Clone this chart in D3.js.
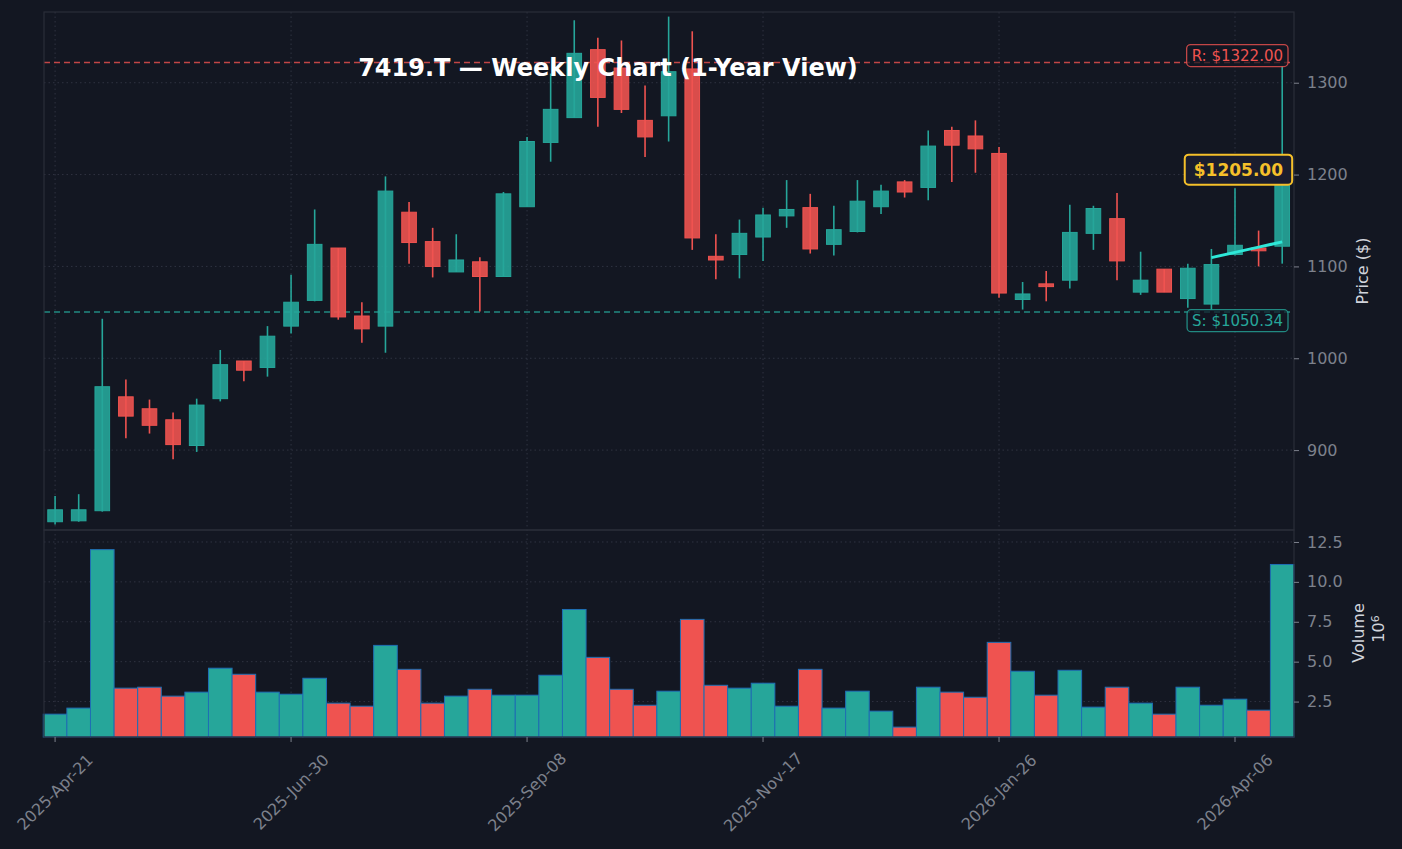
<!DOCTYPE html>
<html>
<head>
<meta charset="utf-8">
<script src="https://cdn.jsdelivr.net/npm/d3@7"></script>
<style>
  body { margin: 0; background: #131722; }
  svg { display: block; font-family: "DejaVu Sans", sans-serif; }
</style>
</head>
<body>
<div id="chart"></div>
<script>
var svgWidth = 1402;
var svgHeight = 849;

// weekly OHLC
var opens  = [822, 823, 834, 958, 945, 933, 905, 956, 997, 990, 1035, 1063, 1120, 1046, 1035, 1159, 1127, 1094, 1105, 1089, 1165, 1235, 1262, 1336, 1316, 1259, 1264, 1315, 1111, 1113, 1132, 1155, 1164, 1124, 1138, 1165, 1192, 1186, 1248, 1242, 1223, 1064, 1081, 1085, 1136, 1152, 1072, 1097, 1065, 1059, 1113, 1120, 1122];
var highs  = [850, 852, 1043, 977, 955, 941, 956, 1009, 997, 1035, 1091, 1162, 1120, 1061, 1198, 1170, 1142, 1135, 1110, 1181, 1241, 1310, 1368, 1349, 1346, 1297, 1372, 1356, 1135, 1151, 1164, 1194, 1179, 1166, 1194, 1189, 1194, 1248, 1252, 1259, 1230, 1083, 1095, 1167, 1166, 1180, 1116, 1097, 1103, 1119, 1185, 1139, 1318];
var lows   = [819, 822, 833, 913, 918, 890, 898, 953, 975, 980, 1027, 1062, 1042, 1017, 1006, 1103, 1088, 1094, 1051, 1089, 1165, 1214, 1262, 1252, 1267, 1219, 1236, 1118, 1086, 1087, 1106, 1142, 1114, 1112, 1137, 1157, 1175, 1172, 1192, 1202, 1066, 1053, 1062, 1076, 1118, 1085, 1069, 1072, 1055, 1053, 1112, 1100, 1103];
var closes = [835, 835, 969, 937, 927, 906, 949, 993, 987, 1024, 1061, 1124, 1045, 1032, 1182, 1126, 1100, 1107, 1089, 1179, 1236, 1271, 1332, 1284, 1271, 1241, 1312, 1131, 1107, 1136, 1156, 1162, 1119, 1140, 1171, 1182, 1181, 1231, 1232, 1228, 1071, 1070, 1078, 1137, 1163, 1106, 1085, 1072, 1098, 1102, 1123, 1117, 1205];
// volume in millions
var volumes = [1.71, 2.09, 12.02, 3.34, 3.40, 2.84, 3.09, 4.59, 4.21, 3.09, 2.96, 3.96, 2.40, 2.21, 6.02, 4.52, 2.40, 2.84, 3.27, 2.90, 2.90, 4.15, 8.27, 5.27, 3.27, 2.27, 3.15, 7.65, 3.52, 3.34, 3.65, 2.21, 4.52, 2.09, 3.15, 1.90, 0.90, 3.40, 3.09, 2.77, 6.21, 4.40, 2.90, 4.46, 2.15, 3.40, 2.40, 1.71, 3.40, 2.27, 2.65, 1.96, 11.09];

// short trend line over the last weeks
var trendIdx = [49, 50, 51, 52];
var trendVals = [1109.6, 1115.3, 1121.0, 1126.7];

var resistance = 1322.00;
var support = 1050.34;
var lastPrice = 1205.00;

var startDate = new Date(2025, 3, 21);
var tickIdx = [0, 10, 20, 30, 40, 50];
var priceTicks = [900, 1000, 1100, 1200, 1300];
var volTicks = [2.5, 5.0, 7.5, 10.0, 12.5];

var green = "#26a69a";
var red = "#ef5350";
var gridColor = "#2f3341";
var textGray = "#7d818c";

var data = opens.map(function(o, i) {
  return {
    i: i,
    date: d3.timeDay.offset(startDate, 7 * i),
    open: o, high: highs[i], low: lows[i], close: closes[i],
    volume: volumes[i]
  };
});

var left = 44, right = 1294;
var pTop = 12, pBottom = 530;
var vTop = 530, vBottom = 737;

var svg = d3.select("#chart").append("svg")
  .attr("width", svgWidth)
  .attr("height", svgHeight);

svg.append("rect").attr("width", svgWidth).attr("height", svgHeight).attr("fill", "#131722");

var x = d3.scaleLinear().domain([-0.47, 52.5]).range([left, right]);
var y = d3.scaleLinear().domain([813, 1377]).range([pBottom, pTop]);
var yv = d3.scaleLinear().domain([0.28, 13.25]).range([vBottom, vTop]);
var step = x(1) - x(0);

// grid
var grid = svg.append("g").attr("stroke", gridColor).attr("stroke-dasharray", "1.5,3").attr("stroke-width", 1);
tickIdx.forEach(function(t) {
  grid.append("line").attr("x1", x(t)).attr("x2", x(t)).attr("y1", pTop).attr("y2", vBottom);
});
priceTicks.forEach(function(p) {
  grid.append("line").attr("x1", left).attr("x2", right).attr("y1", y(p)).attr("y2", y(p));
});
volTicks.forEach(function(v) {
  grid.append("line").attr("x1", left).attr("x2", right).attr("y1", yv(v)).attr("y2", yv(v));
});

// support / resistance
svg.append("line").attr("x1", left).attr("x2", right)
  .attr("y1", y(resistance)).attr("y2", y(resistance))
  .attr("stroke", red).attr("stroke-opacity", 0.8).attr("stroke-width", 1.6).attr("stroke-dasharray", "6,4");
svg.append("line").attr("x1", left).attr("x2", right)
  .attr("y1", y(support)).attr("y2", y(support))
  .attr("stroke", green).attr("stroke-opacity", 0.8).attr("stroke-width", 1.6).attr("stroke-dasharray", "6,4");

// candles
var candles = svg.append("g").selectAll("g").data(data).enter().append("g");
candles.append("line")
  .attr("x1", d => x(d.i)).attr("x2", d => x(d.i))
  .attr("y1", d => y(d.high)).attr("y2", d => y(d.low))
  .attr("stroke", d => d.close >= d.open ? green : red)
  .attr("stroke-width", 1.6);
candles.append("rect")
  .attr("x", d => x(d.i) - step * 0.31)
  .attr("width", step * 0.62)
  .attr("y", d => y(Math.max(d.open, d.close)))
  .attr("height", d => Math.max(1.5, Math.abs(y(d.open) - y(d.close))))
  .attr("fill", d => d.close >= d.open ? green : red)
  .attr("fill-opacity", 0.9)
  .attr("stroke", d => d.close >= d.open ? green : red)
  .attr("stroke-width", 1);

// trend line
var trendLine = d3.line().x(function(d, k) { return x(trendIdx[k]); }).y(d => y(d));
svg.append("path").datum(trendVals)
  .attr("d", trendLine)
  .attr("fill", "none").attr("stroke", "#2ee8d8").attr("stroke-width", 3);

// volume bars
svg.append("g").selectAll("rect").data(data).enter().append("rect")
  .attr("x", d => x(d.i) - step / 2)
  .attr("width", step)
  .attr("y", d => yv(d.volume))
  .attr("height", d => vBottom - yv(d.volume))
  .attr("fill", d => d.close >= d.open ? green : red)
  .attr("stroke", "#1f6fb4")
  .attr("stroke-width", 1);

// frame
var frame = svg.append("g").attr("stroke", "#2a2e39").attr("stroke-width", 1.2).attr("fill", "none");
frame.append("rect").attr("x", left).attr("y", pTop).attr("width", right - left).attr("height", pBottom - pTop);
frame.append("rect").attr("x", left).attr("y", vTop).attr("width", right - left).attr("height", vBottom - vTop);

// right axes
var priceAxis = d3.axisRight(y).tickValues(priceTicks).tickFormat(d3.format("d")).tickSize(5).tickPadding(8);
var gP = svg.append("g").attr("transform", `translate(${right},0)`).call(priceAxis);
var volAxis = d3.axisRight(yv).tickValues(volTicks).tickFormat(d3.format(".1f")).tickSize(5).tickPadding(8);
var gV = svg.append("g").attr("transform", `translate(${right},0)`).call(volAxis);
[gP, gV].forEach(function(g) {
  g.select(".domain").remove();
  g.selectAll(".tick line").attr("stroke", textGray);
  g.selectAll(".tick text").attr("fill", textGray).style("font-size", "16px").style("font-family", "DejaVu Sans");
});

// bottom axis
var xAxis = svg.append("g");
tickIdx.forEach(function(t) {
  xAxis.append("line").attr("x1", x(t)).attr("x2", x(t)).attr("y1", vBottom).attr("y2", vBottom + 5).attr("stroke", textGray);
  xAxis.append("text")
    .attr("transform", `translate(${x(t)},792) rotate(-45)`)
    .attr("text-anchor", "middle")
    .attr("dy", "0.35em")
    .attr("fill", textGray)
    .style("font-size", "16px")
    .text(d3.timeFormat("%Y-%b-%d")(data[t].date));
});

// axis titles
svg.append("text")
  .attr("transform", "translate(1368,271) rotate(-90)")
  .attr("text-anchor", "middle")
  .attr("fill", "#d1d4dc").style("font-size", "16px")
  .text("Price ($)");
svg.append("text")
  .attr("transform", "translate(1364,633) rotate(-90)")
  .attr("text-anchor", "middle")
  .attr("fill", "#d1d4dc").style("font-size", "16px")
  .text("Volume");
var sci = svg.append("text")
  .attr("transform", "translate(1384,629) rotate(-90)")
  .attr("text-anchor", "middle")
  .attr("fill", "#d1d4dc").style("font-size", "16px");
sci.append("tspan").text("10");
sci.append("tspan").attr("dy", "-0.5em").style("font-size", "11px").text("6");

// price tags
function tag(cx, value, label, color, opts) {
  var g = svg.append("g");
  var t = g.append("text")
    .attr("x", cx).attr("y", y(value))
    .attr("text-anchor", "end")
    .attr("dy", "0.36em")
    .attr("fill", color)
    .style("font-size", opts.size + "px")
    .style("font-weight", opts.bold ? "bold" : "normal")
    .text(label);
  var bb = t.node().getBBox();
  g.insert("rect", "text")
    .attr("x", bb.x - opts.padX).attr("y", bb.y - opts.padY)
    .attr("width", bb.width + opts.padX * 2).attr("height", bb.height + opts.padY * 2)
    .attr("rx", 4)
    .attr("fill", opts.fill).attr("fill-opacity", opts.fillOpacity)
    .attr("stroke", color).attr("stroke-width", opts.sw).attr("stroke-opacity", opts.so);
}
tag(1283, resistance + 8, "R: $" + resistance.toFixed(2), red, {size: 15, padX: 5, padY: 2, fill: "#131722", fillOpacity: 0.7, sw: 1.3, so: 0.8});
tag(1283, support - 9, "S: $" + support.toFixed(2), green, {size: 15, padX: 5, padY: 2, fill: "#131722", fillOpacity: 0.7, sw: 1.3, so: 0.8});
tag(1283, lastPrice + 0.5, "$" + lastPrice.toFixed(2), "#f5c02a", {size: 17, bold: true, padX: 9, padY: 5, fill: "#1a1d2e", fillOpacity: 1, sw: 2, so: 1});

// title
svg.append("text")
  .attr("x", 608).attr("y", 76)
  .attr("text-anchor", "middle")
  .attr("fill", "#ffffff")
  .style("font-size", "24px").style("font-weight", "bold")
  .text("7419.T \u2014 Weekly Chart (1-Year View)");
</script>
</body>
</html>
